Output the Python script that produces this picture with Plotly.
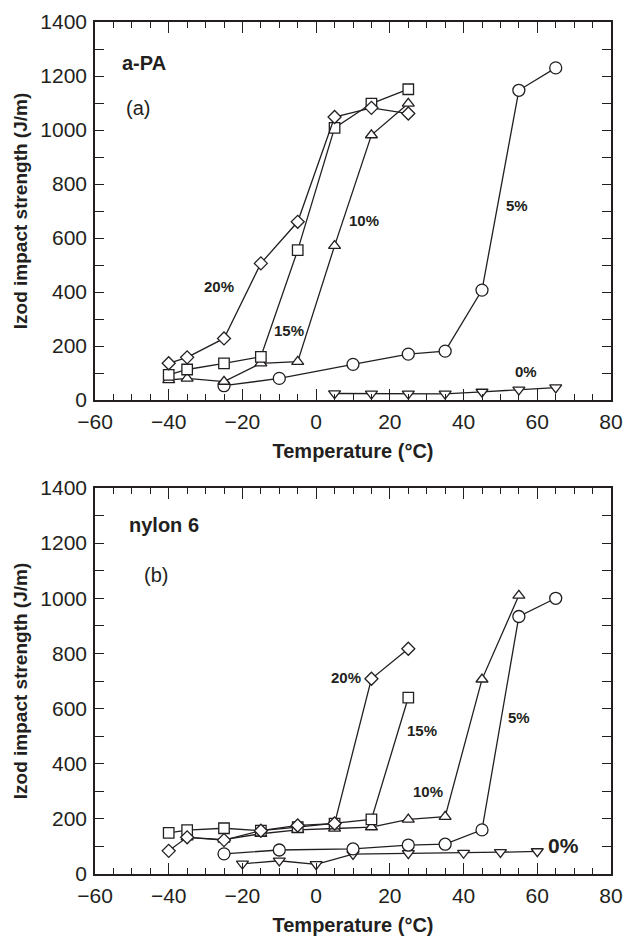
import plotly.graph_objects as go

# ---------------- data: panel (a) a-PA ----------------
a_x20 = [-40, -35, -25, -15, -5, 5, 15, 25]
a_y20 = [136, 158, 228, 506, 660, 1048, 1082, 1061]
a_x15 = [-40, -35, -25, -15, -5, 5, 15, 25]
a_y15 = [93, 113, 136, 160, 555, 1008, 1098, 1151]
a_x10 = [-40, -35, -25, -15, -5, 5, 15, 25]
a_y10 = [74, 80, 68, 136, 142, 571, 981, 1098]
a_x5 = [-25, -10, 10, 25, 35, 45, 55, 65]
a_y5 = [53, 80, 132, 170, 181, 407, 1147, 1230]
a_x0 = [5, 15, 25, 35, 45, 55, 65]
a_y0 = [24, 23, 23, 23, 30, 38, 46]

# ---------------- data: panel (b) nylon 6 ----------------
b_x20 = [-40, -35, -25, -15, -5, 5, 15, 25]
b_y20 = [84, 133, 123, 157, 176, 183, 708, 817]
b_x15 = [-40, -35, -25, -15, -5, 5, 15, 25]
b_y15 = [149, 159, 166, 157, 170, 183, 198, 640]
b_x10 = [-35, -25, -15, -5, 5, 15, 25, 35, 45, 55]
b_y10 = [133, 125, 146, 160, 165, 170, 198, 208, 706, 1010]
b_x5 = [-25, -10, 10, 25, 35, 45, 55, 65]
b_y5 = [73, 87, 91, 105, 108, 160, 934, 1000]
b_x0 = [-20, -10, 0, 10, 25, 40, 50, 60]
b_y0 = [37, 48, 35, 72, 75, 76, 79, 82]

# label texts / positions
a_labels = ["20%", "15%", "10%", "5%", "0%"]
a_lab_x = [-26.3, -7.5, 12.9, 54.6, 57.0]
a_lab_y = [419, 257, 666, 719, 107]
b_labels = ["20%", "15%", "10%", "5%"]
b_lab_x = [8.0, 28.6, 30.4, 55.1]
b_lab_y = [714, 519, 298, 567]

INK = "#231f20"
FONT = "Liberation Sans, Arial, Helvetica, sans-serif"

fig = go.Figure()

def add_series(xs, ys, symbol, size, xa, ya):
    fig.add_trace(go.Scatter(
        x=xs, y=ys, mode="lines+markers", xaxis=xa, yaxis=ya,
        line=dict(color=INK, width=1.3),
        marker=dict(symbol=symbol, size=size, color="white",
                    line=dict(color=INK, width=1.3)),
        showlegend=False, hoverinfo="x+y"))

for xa, ya, data in [
    ("x", "y", [(a_x0, a_y0), (a_x5, a_y5), (a_x10, a_y10), (a_x15, a_y15), (a_x20, a_y20)]),
    ("x2", "y2", [(b_x0, b_y0), (b_x5, b_y5), (b_x10, b_y10), (b_x15, b_y15), (b_x20, b_y20)]),
]:
    syms = [("triangle-down", 10.5), ("circle", 12), ("triangle-up", 10.5), ("square", 10.5), ("diamond", 10)]
    for (xs, ys), (s, sz) in zip(data, syms):
        add_series(xs, ys, s, sz, xa, ya)

tickfont = dict(family=FONT, size=21, color=INK)
xtitlefont = dict(family=FONT, size=20, color=INK)
ytitlefont = dict(family=FONT, size=19, color=INK)

def xaxis_cfg(anchor):
    return dict(
        range=[-60, 80], dtick=20, tick0=-60, ticks="inside", ticklen=11, tickwidth=1.3,
        tickcolor=INK, minor=dict(dtick=5, ticks="inside", ticklen=6, tickwidth=1.3, tickcolor=INK),
        showline=True, linecolor=INK, linewidth=1.5, mirror="allticks",
        showgrid=False, zeroline=False, tickfont=tickfont, automargin=False,
        tickformat="d", anchor=anchor, ticklabelstandoff=2,
        title=dict(text="<b>Temperature (°C)</b>", font=xtitlefont, standoff=12),
    )

def yaxis_cfg(anchor, domain):
    return dict(
        range=[0, 1400], dtick=200, ticks="inside", ticklen=9, tickwidth=1.3,
        tickcolor=INK, minor=dict(dtick=100, ticks="inside", ticklen=9, tickwidth=1.3, tickcolor=INK),
        showline=True, linecolor=INK, linewidth=1.5, mirror="allticks",
        showgrid=False, zeroline=False, tickfont=tickfont, domain=domain,
        anchor=anchor, ticklabelstandoff=2, automargin=False,
        title=dict(text="<b>Izod impact strength (J/m)</b>", font=ytitlefont, standoff=8),
    )

fig.update_layout(
    width=626, height=938,
    margin=dict(l=95, r=15, t=22, b=64, autoexpand=False),
    paper_bgcolor="white", plot_bgcolor="white",
    xaxis=xaxis_cfg("y"),
    yaxis=yaxis_cfg("x", [1 - 378 / 852, 1.0]),
    xaxis2=xaxis_cfg("y2"),
    yaxis2=yaxis_cfg("x2", [0.0, 386 / 852]),
    font=dict(family=FONT, color=INK),
)

lab_font = dict(family=FONT, size=15, color=INK)
for t, x, y in zip(a_labels, a_lab_x, a_lab_y):
    fig.add_annotation(x=x, y=y, xref="x", yref="y", text="<b>" + t + "</b>",
                       showarrow=False, font=lab_font)
for t, x, y in zip(b_labels, b_lab_x, b_lab_y):
    fig.add_annotation(x=x, y=y, xref="x2", yref="y2", text="<b>" + t + "</b>",
                       showarrow=False, font=lab_font)
fig.add_annotation(x=67.0, y=105, xref="x2", yref="y2", text="<b>0%</b>",
                   showarrow=False, font=dict(family=FONT, size=21, color=INK))

fig.add_annotation(x=-53.2, y=1248, xref="x", yref="y", text="<b>a-PA</b>", xanchor="left",
                   showarrow=False, font=dict(family=FONT, size=20, color=INK))
fig.add_annotation(x=-48.3, y=1083, xref="x", yref="y", text="(a)",
                   showarrow=False, font=dict(family=FONT, size=20, color=INK))
fig.add_annotation(x=-51.2, y=1267, xref="x2", yref="y2", text="<b>nylon 6</b>", xanchor="left",
                   showarrow=False, font=dict(family=FONT, size=20, color=INK))
fig.add_annotation(x=-43.4, y=1086, xref="x2", yref="y2", text="(b)",
                   showarrow=False, font=dict(family=FONT, size=20, color=INK))

fig.write_html("out.html")
